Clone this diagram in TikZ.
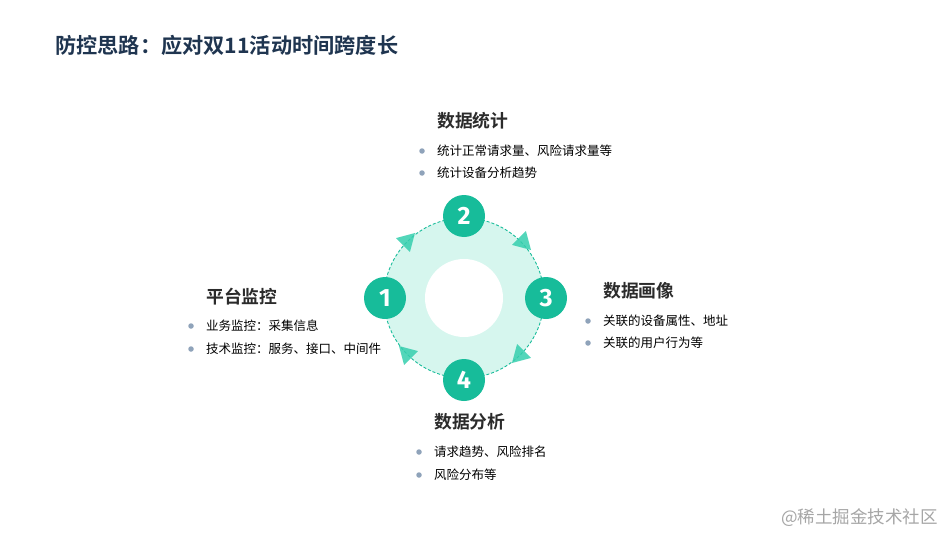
\documentclass[tikz,border=0pt]{standalone}
\usepackage{fontspec}
\newfontfamily\cjk{Noto Sans CJK SC}[BoldFont={Noto Sans CJK SC Bold}]
\newfontfamily\numfont{Fira Sans}
\usetikzlibrary{shapes.geometric}
\definecolor{navy}{HTML}{1F3550}
\definecolor{teal}{HTML}{17BC9A}
\definecolor{mint}{HTML}{D6F6EE}
\definecolor{arrowc}{HTML}{36CFAE}
\definecolor{bulletc}{HTML}{8FA3BA}
\definecolor{headc}{HTML}{2B2B2B}
\tikzset{
  title/.style={anchor=west,inner sep=0pt,text=navy,font=\cjk\bfseries\fontsize{21.2}{24}\selectfont},
  head/.style={anchor=west,inner sep=0pt,text=headc,font=\cjk\bfseries\fontsize{17.8}{21}\selectfont},
  item/.style={anchor=west,inner sep=0pt,text=black,font=\cjk\fontsize{12.5}{15}\selectfont},
  dot/.style={circle,fill=bulletc,minimum size=5.5pt,inner sep=0pt},
  numc/.style={circle,fill=teal,minimum size=42pt,inner sep=0pt,text=white,font=\numfont\bfseries\fontsize{25}{28}\selectfont},
  tri/.style={isosceles triangle,isosceles triangle apex angle=60,fill=arrowc,fill opacity=0.85,minimum height=17pt,minimum width=18pt,inner sep=0pt},
  water/.style={anchor=west,inner sep=0pt,text=black!35,font=\cjk\fontsize{17.5}{20}\selectfont}
}
\begin{document}
\begin{tikzpicture}[x=1pt,y=-1pt]
\fill[white] (0,0) rectangle (947,535);
\useasboundingbox (0,0) rectangle (947,535);
% title
\node[title] (title) at (55,45) {防控思路：应对双11活动时间跨度长};
% ring
\coordinate (c) at (464,298);
\fill[mint] (c) circle (80);
\fill[white] (c) circle (39);
\draw[teal,densely dashed,line width=0.9pt] (c) circle (80);
% arrows
\node[tri,rotate=45] (a1) at (407,241) {};
\node[tri,rotate=-45] (a2) at (523,242) {};
\node[tri,rotate=-135] (a3) at (520,355) {};
\node[tri,rotate=135] (a4) at (407,354) {};
% number circles
\node[numc] (n1) at (385,298) {1};
\node[numc] (n2) at (464,216) {2};
\node[numc] (n3) at (546,298) {3};
\node[numc] (n4) at (464,380) {4};
% block 2
\node[head] (h2) at (437,121) {数据统计};
\node[dot] (d21) at (422,151) {};
\node[item] (t21) at (437,151) {统计正常请求量、风险请求量等};
\node[dot] (d22) at (422,173) {};
\node[item] (t22) at (437,173) {统计设备分析趋势};
% block 1
\node[head] (h1) at (206,297) {平台监控};
\node[dot] (d11) at (191,326) {};
\node[item] (t11) at (206,326) {业务监控：采集信息};
\node[dot] (d12) at (191,349) {};
\node[item] (t12) at (206,349) {技术监控：服务、接口、中间件};
% block 3
\node[head] (h3) at (603,291) {数据画像};
\node[dot] (d31) at (588,321) {};
\node[item] (t31) at (603,321) {关联的设备属性、地址};
\node[dot] (d32) at (588,343) {};
\node[item] (t32) at (603,343) {关联的用户行为等};
% block 4
\node[head] (h4) at (434,422) {数据分析};
\node[dot] (d41) at (419,452) {};
\node[item] (t41) at (434,452) {请求趋势、风险排名};
\node[dot] (d42) at (419,475) {};
\node[item] (t42) at (434,475) {风险分布等};
% watermark
\node[water] (wm) at (781,518) {@稀土掘金技术社区};
\end{tikzpicture}
\end{document}
